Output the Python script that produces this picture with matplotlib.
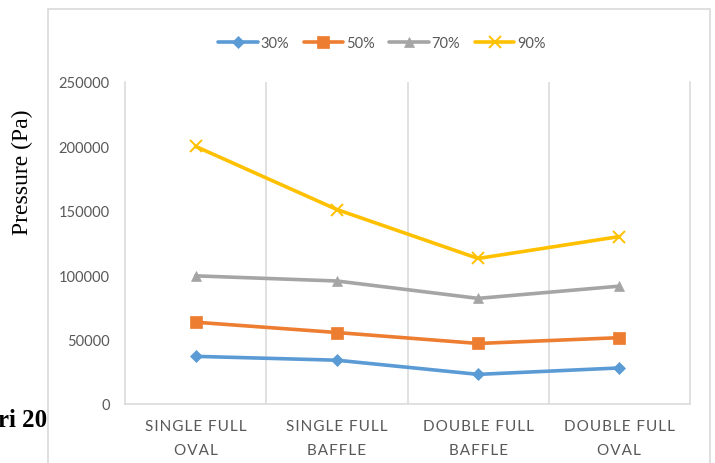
import matplotlib
matplotlib.use("Agg")
from matplotlib import pyplot
from matplotlib.patches import Rectangle
from matplotlib.transforms import Bbox, TransformedBbox

categories = ["SINGLE FULL\nOVAL", "SINGLE FULL\nBAFFLE", "DOUBLE FULL\nBAFFLE", "DOUBLE FULL\nOVAL"]
series_names = ["30%", "50%", "70%", "90%"]
p30 = [37000, 34000, 23000, 28000]
p50 = [63500, 55500, 47000, 51500]
p70 = [99500, 95500, 82000, 91500]
p90 = [200000, 151000, 113000, 130000]
y_ticks = [0, 50000, 100000, 150000, 200000, 250000]

colors = ["#5B9BD5", "#ED7D31", "#A5A5A5", "#FFC000"]
markers = ["D", "s", "^", "x"]
msizes = [6, 8, 7.5, 8]
text_gray = "#595959"
line_gray = "#D9D9D9"
W, H = 715, 464


def spaced(label):
    # excel-style letter spacing
    return "\n".join("\u200a".join(line) for line in label.split("\n"))


fig = pyplot.figure(figsize=(W / 100, H / 100), dpi=100)
fig.patch.set_facecolor("white")

# bit of the page text that sits behind the chart
stray = fig.text(-2 / W, 1 - 427 / H, "ri 20", family="Liberation Serif", weight="bold",
                 fontsize=18, ha="left", va="baseline", color="black")
stray.set_clip_box(TransformedBbox(Bbox([[0, 0], [48 / W, 1]]), fig.transFigure))
stray.set_clip_on(True)

# chart frame
fig.patches.append(Rectangle((48 / W, -0.1), (710 - 48) / W, 1.1 - 10 / H, transform=fig.transFigure,
                             fill=False, edgecolor=line_gray, linewidth=1.2))

ax = fig.add_axes([125 / W, 1 - 405 / H, 565 / W, 322 / H])
x = list(range(len(categories)))
for vals, name, c, m, ms in zip([p30, p50, p70, p90], series_names, colors, markers, msizes):
    ax.plot(x, vals, color=c, linewidth=2.6, marker=m, markersize=ms, markeredgewidth=1.4 if m == "x" else 0.5,
            markeredgecolor=c, label=name, solid_capstyle="round")

ax.set_xlim(-0.5, 3.5)
ax.set_ylim(0, 250000)
ax.set_yticks(y_ticks)
ax.set_yticklabels([str(v) for v in y_ticks])
ax.set_xticks(x)
ax.set_xticklabels([spaced(c) for c in categories], linespacing=1.9)
ax.set_xticks([0.5, 1.5, 2.5], minor=True)
ax.grid(True, which="minor", axis="x", color=line_gray, linewidth=1.1)
ax.tick_params(axis="both", which="both", length=0)
ax.tick_params(axis="y", pad=11, labelsize=10.5, labelcolor=text_gray)
ax.tick_params(axis="x", pad=11, labelsize=11, labelcolor=text_gray)
for lab in ax.get_yticklabels() + ax.get_xticklabels():
    lab.set_family(["Lato", "DejaVu Sans"])

for side in ["left", "right", "bottom"]:
    ax.spines[side].set_color(line_gray)
    ax.spines[side].set_linewidth(1.1)
ax.spines["top"].set_visible(False)

ax.set_ylabel("Pressure (Pa)", family="Liberation Serif", fontsize=17, color="black")
ax.yaxis.set_label_coords(33 / W, 1 - 172 / H, transform=fig.transFigure)

leg = fig.legend(loc="center", bbox_to_anchor=(382 / W, 1 - 44 / H), ncol=4, frameon=False,
                 handlelength=2.7, handletextpad=0.2, columnspacing=1.0,
                 prop={"family": "Lato", "size": 10.5})
for t in leg.get_texts():
    t.set_color(text_gray)

fig.savefig("out.png", dpi=100)
